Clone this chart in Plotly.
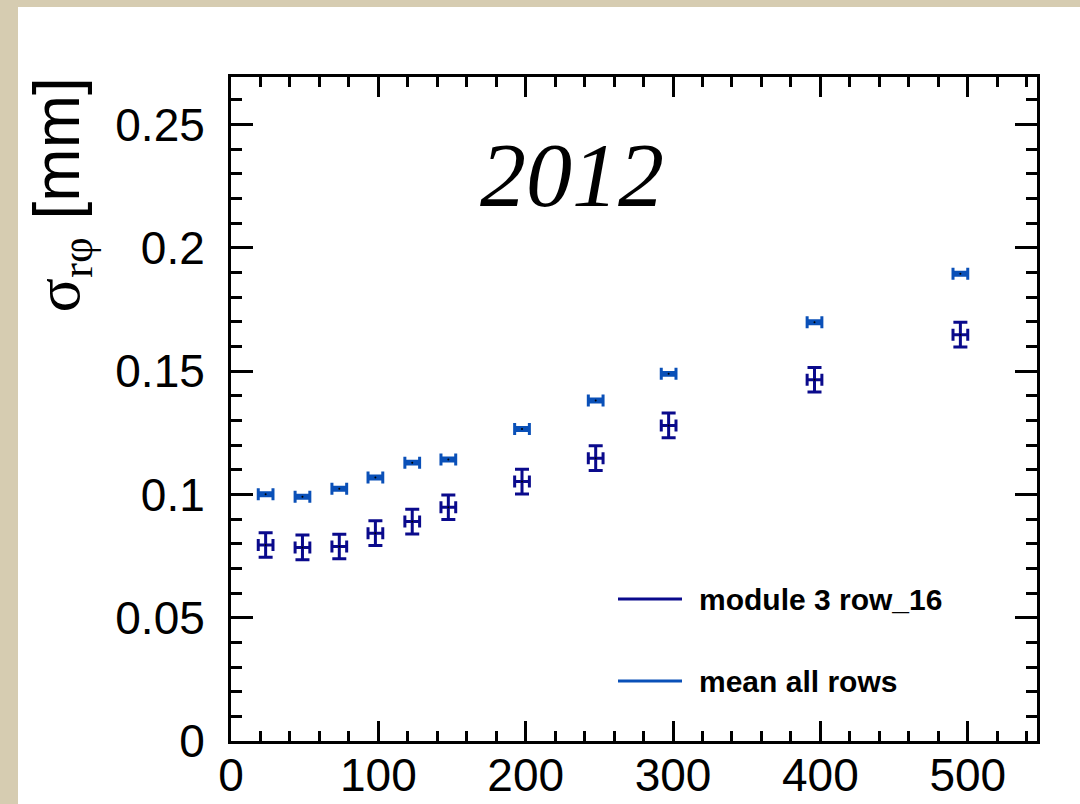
import plotly.graph_objects as go

# ---- data ----
x_vals = [23.5, 48.5, 73.5, 98, 123, 147.5, 197.5, 247.5, 297, 396, 495]
x_err = [5, 5, 5, 5, 5, 5, 5, 5, 5, 5, 5]
module_y = [0.0795, 0.0785, 0.0789, 0.0843, 0.0890, 0.0948, 0.1052, 0.1147, 0.1280, 0.1465, 0.1648]
module_yerr = [0.005, 0.005, 0.005, 0.005, 0.005, 0.005, 0.005, 0.005, 0.005, 0.005, 0.005]
mean_y = [0.1001, 0.0991, 0.1023, 0.1069, 0.1129, 0.1142, 0.1265, 0.1381, 0.1489, 0.1698, 0.1895]
mean_yerr = [0.0006, 0.0006, 0.0006, 0.0006, 0.0006, 0.0006, 0.0006, 0.0006, 0.0006, 0.0006, 0.0006]
series_names = ["module 3 row_16", "mean all rows"]
x_ticks = [0, 100, 200, 300, 400, 500]
y_ticks = [0, 0.05, 0.1, 0.15, 0.2, 0.25]
y_tick_text = ["0", "0.05", "0.1", "0.15", "0.2", "0.25"]

c_module = "#0a0a8c"
c_mean = "#0a50b8"

fig = go.Figure()
fig.add_trace(go.Scatter(
    x=x_vals, y=mean_y, mode="markers", name=series_names[1], showlegend=False,
    marker=dict(size=2, color="black"),
    error_x=dict(type="data", array=x_err, color=c_mean, thickness=3, width=6),
    error_y=dict(type="data", array=mean_yerr, color=c_mean, thickness=3, width=7),
))
fig.add_trace(go.Scatter(
    x=x_vals, y=module_y, mode="markers", name=series_names[0], showlegend=False,
    marker=dict(size=2, color="black"),
    error_x=dict(type="data", array=x_err, color=c_module, thickness=3, width=6),
    error_y=dict(type="data", array=module_yerr, color=c_module, thickness=3, width=7),
))

L, R, T, B = 231, 43, 77, 63
W, H = 1080, 804
pw, ph = W - L - R, H - T - B

def px2x(px):
    return (px - L) / pw

def px2y(py):
    return (H - B - py) / ph

shapes = [
    dict(type="rect", xref="paper", yref="paper", x0=px2x(18), x1=px2x(1085),
         y0=px2y(810), y1=px2y(7), fillcolor="white", line=dict(width=0), layer="below"),
    dict(type="line", xref="paper", yref="paper", x0=px2x(618), x1=px2x(682),
         y0=px2y(599), y1=px2y(599), line=dict(color=c_module, width=3)),
    dict(type="line", xref="paper", yref="paper", x0=px2x(618), x1=px2x(682),
         y0=px2y(681), y1=px2y(681), line=dict(color=c_mean, width=3)),
]

annotations = [
    dict(xref="paper", yref="paper", x=px2x(697), y=px2y(599), xanchor="left", yanchor="middle",
         text="<b>" + series_names[0] + "</b>", showarrow=False,
         font=dict(family="Liberation Sans", size=30, color="black")),
    dict(xref="paper", yref="paper", x=px2x(697), y=px2y(681), xanchor="left", yanchor="middle",
         text="<b>" + series_names[1] + "</b>", showarrow=False,
         font=dict(family="Liberation Sans", size=30, color="black")),
    dict(xref="x", yref="y", x=231.5, y=0.2297, xanchor="center", yanchor="middle",
         text="<i>2012</i>", showarrow=False,
         font=dict(family="Liberation Serif", size=92, color="black")),
    dict(xref="paper", yref="paper", x=px2x(61), y=px2y(76), xanchor="center", yanchor="top",
         textangle=-90, showarrow=False,
         text="<span style='font-family:Liberation Serif'>σ</span><sub><span style='font-family:Liberation Serif'>rφ</span></sub> [mm]",
         font=dict(family="Liberation Sans", size=64, color="black")),
]

fig.update_layout(
    width=W, height=H,
    margin=dict(l=L, r=R, t=T, b=B, autoexpand=False),
    paper_bgcolor="#d6ccb1",
    plot_bgcolor="white",
    shapes=shapes,
    annotations=annotations,
    font=dict(family="Liberation Sans", color="black"),
    xaxis=dict(
        range=[0, 547], showgrid=False, zeroline=False, automargin=False,
        showline=True, linecolor="black", linewidth=3, mirror="allticks",
        ticks="inside", ticklen=20, tickwidth=2.5, tickcolor="black",
        tickvals=x_ticks, ticktext=[str(v) for v in x_ticks],
        tickfont=dict(size=46, family="Liberation Sans"),
        minor=dict(dtick=20, tick0=0, ticks="inside", ticklen=10, tickwidth=2.5, tickcolor="black", showgrid=False),
        ticklabelstandoff=-8,
    ),
    yaxis=dict(
        range=[0, 0.2693], showgrid=False, zeroline=False, automargin=False,
        showline=True, linecolor="black", linewidth=3, mirror="allticks",
        ticks="inside", ticklen=22, tickwidth=2.5, tickcolor="black",
        tickvals=y_ticks, ticktext=y_tick_text,
        tickfont=dict(size=46, family="Liberation Sans"),
        minor=dict(dtick=0.01, tick0=0, ticks="inside", ticklen=11, tickwidth=2.5, tickcolor="black", showgrid=False),
        ticklabelstandoff=14,
    ),
)

fig.write_html("out.html")
